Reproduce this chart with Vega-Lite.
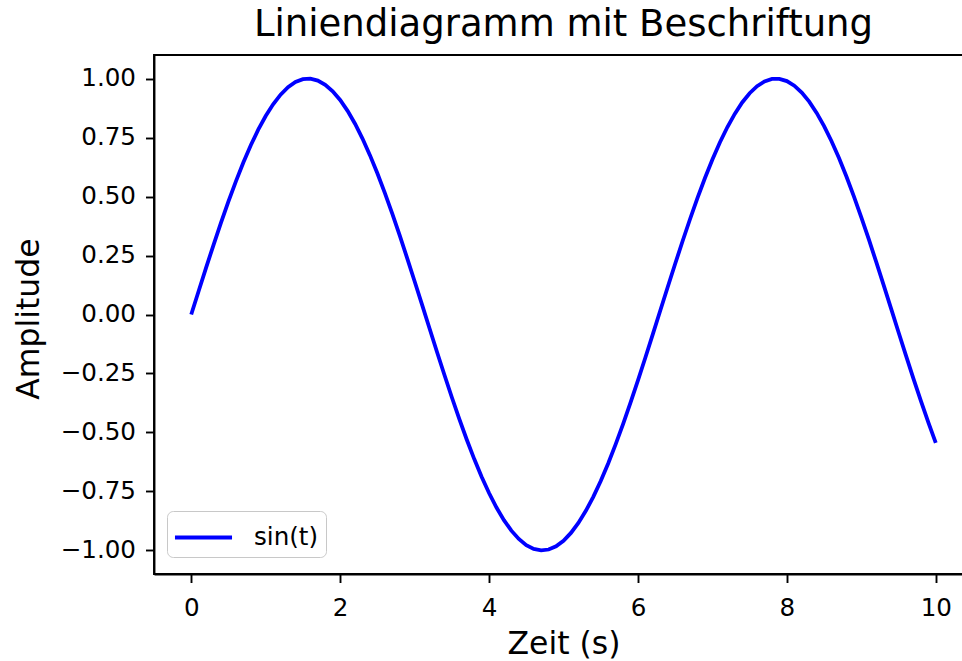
{
  "$schema": "https://vega.github.io/schema/vega-lite/v6.json",
  "autosize": {"type": "none"},
  "width": 819,
  "height": 519,
  "padding": {"left": 154, "top": 55, "right": 0, "bottom": 87},
  "background": "white",
  "title": {"text": "Liniendiagramm mit Beschriftung", "fontSize": 37, "font": "DejaVu Sans", "fontWeight": "normal", "color": "black", "baseline": "alphabetic", "offset": 18, "dy": 36, "anchor": "middle"},
  "config": {
    "font": "DejaVu Sans",
    "view": {"stroke": "black", "strokeWidth": 1.9},
    "axis": {"grid": false, "domainColor": "black", "domainWidth": 1.9, "tickColor": "black", "tickWidth": 1.9, "tickSize": 8.5, "labelColor": "black", "labelFontSize": 24.6, "labelFont": "DejaVu Sans", "titleFont": "DejaVu Sans", "titleFontSize": 31.5, "titleFontWeight": "normal", "titleColor": "black"}
  },
  "data": {"values": [
    {"t":0.0,"y":0.0},{"t":0.1,"y":0.0998},{"t":0.2,"y":0.1987},{"t":0.3,"y":0.2955},{"t":0.4,"y":0.3894},{"t":0.5,"y":0.4794},{"t":0.6,"y":0.5646},{"t":0.7,"y":0.6442},{"t":0.8,"y":0.7174},{"t":0.9,"y":0.7833},
    {"t":1.0,"y":0.8415},{"t":1.1,"y":0.8912},{"t":1.2,"y":0.932},{"t":1.3,"y":0.9636},{"t":1.4,"y":0.9854},{"t":1.5,"y":0.9975},{"t":1.6,"y":0.9996},{"t":1.7,"y":0.9917},{"t":1.8,"y":0.9738},{"t":1.9,"y":0.9463},
    {"t":2.0,"y":0.9093},{"t":2.1,"y":0.8632},{"t":2.2,"y":0.8085},{"t":2.3,"y":0.7457},{"t":2.4,"y":0.6755},{"t":2.5,"y":0.5985},{"t":2.6,"y":0.5155},{"t":2.7,"y":0.4274},{"t":2.8,"y":0.335},{"t":2.9,"y":0.2392},
    {"t":3.0,"y":0.1411},{"t":3.1,"y":0.0416},{"t":3.2,"y":-0.0584},{"t":3.3,"y":-0.1577},{"t":3.4,"y":-0.2555},{"t":3.5,"y":-0.3508},{"t":3.6,"y":-0.4425},{"t":3.7,"y":-0.5298},{"t":3.8,"y":-0.6119},{"t":3.9,"y":-0.6878},
    {"t":4.0,"y":-0.7568},{"t":4.1,"y":-0.8183},{"t":4.2,"y":-0.8716},{"t":4.3,"y":-0.9162},{"t":4.4,"y":-0.9516},{"t":4.5,"y":-0.9775},{"t":4.6,"y":-0.9937},{"t":4.7,"y":-0.9999},{"t":4.8,"y":-0.9962},{"t":4.9,"y":-0.9825},
    {"t":5.0,"y":-0.9589},{"t":5.1,"y":-0.9258},{"t":5.2,"y":-0.8835},{"t":5.3,"y":-0.8323},{"t":5.4,"y":-0.7728},{"t":5.5,"y":-0.7055},{"t":5.6,"y":-0.6313},{"t":5.7,"y":-0.5507},{"t":5.8,"y":-0.4646},{"t":5.9,"y":-0.3739},
    {"t":6.0,"y":-0.2794},{"t":6.1,"y":-0.1822},{"t":6.2,"y":-0.0831},{"t":6.3,"y":0.0168},{"t":6.4,"y":0.1165},{"t":6.5,"y":0.2151},{"t":6.6,"y":0.3115},{"t":6.7,"y":0.4048},{"t":6.8,"y":0.4941},{"t":6.9,"y":0.5784},
    {"t":7.0,"y":0.657},{"t":7.1,"y":0.729},{"t":7.2,"y":0.7937},{"t":7.3,"y":0.8504},{"t":7.4,"y":0.8987},{"t":7.5,"y":0.938},{"t":7.6,"y":0.9679},{"t":7.7,"y":0.9882},{"t":7.8,"y":0.9985},{"t":7.9,"y":0.9989},
    {"t":8.0,"y":0.9894},{"t":8.1,"y":0.9699},{"t":8.2,"y":0.9407},{"t":8.3,"y":0.9022},{"t":8.4,"y":0.8546},{"t":8.5,"y":0.7985},{"t":8.6,"y":0.7344},{"t":8.7,"y":0.663},{"t":8.8,"y":0.5849},{"t":8.9,"y":0.501},
    {"t":9.0,"y":0.4121},{"t":9.1,"y":0.3191},{"t":9.2,"y":0.2229},{"t":9.3,"y":0.1245},{"t":9.4,"y":0.0248},{"t":9.5,"y":-0.0752},{"t":9.6,"y":-0.1743},{"t":9.7,"y":-0.2718},{"t":9.8,"y":-0.3665},{"t":9.9,"y":-0.4575},
    {"t":10.0,"y":-0.544}
  ]},
  "mark": {"type": "line", "strokeWidth": 3.8, "clip": false},
  "encoding": {
    "x": {"field": "t", "type": "quantitative", "scale": {"domain": [-0.5, 10.5], "nice": false, "zero": false},
      "axis": {"values": [0, 2, 4, 6, 8, 10], "format": "d", "labelPadding": 14, "labelBaseline": "top", "title": "Zeit (s)", "titleY": 79, "titleBaseline": "alphabetic"}},
    "y": {"field": "y", "type": "quantitative", "scale": {"domain": [-1.1, 1.1], "nice": false, "zero": false},
      "axis": {"values": [-1, -0.75, -0.5, -0.25, 0, 0.25, 0.5, 0.75, 1], "labelExpr": "replace(format(datum.value, '.2f'), '-', '\u2212')", "labelPadding": 10, "title": "Amplitude", "titleX": -116, "titleY": 263.5, "titleAngle": -90, "titleAlign": "center", "titleBaseline": "alphabetic"}},
    "color": {"datum": "sin(t)", "type": "nominal", "scale": {"range": ["#0000ff"]},
      "legend": {"title": null, "orient": "none", "legendX": 13, "legendY": 456, "symbolType": "M-1.63,0H1.63", "symbolSize": 1225, "symbolOffset": 10, "symbolStrokeWidth": 3.8, "labelFontSize": 24.6, "labelFont": "DejaVu Sans", "labelColor": "black", "labelOffset": 31, "labelExpr": "datum.label + '\u00a0\u00a0'", "padding": 7, "fillColor": "white", "strokeColor": "#c8c8c8", "cornerRadius": 6}}
  }
}
